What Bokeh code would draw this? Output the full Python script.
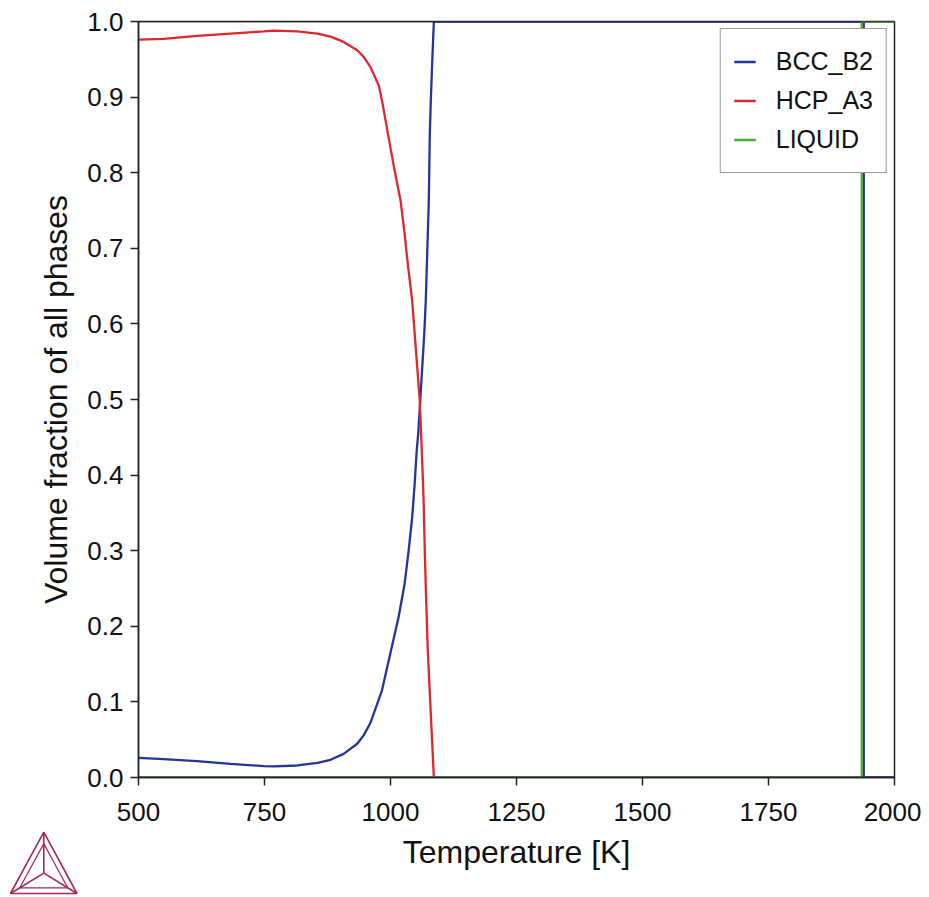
from bokeh.plotting import figure
from bokeh.layouts import column, row
from bokeh.models import (Range1d, FixedTicker, PrintfTickFormatter, Legend, LegendItem, Span)
from bokeh.embed import file_html
from bokeh.resources import INLINE

# ---- data ----
bcc_T = [500, 550, 616, 683, 749, 768, 815, 855, 881, 907, 934, 947, 960, 983, 1001, 1016,
         1028, 1036, 1043, 1048, 1052, 1055, 1059, 1063, 1067, 1070, 1072, 1074, 1076, 1077,
         1078, 1080, 1083, 1086, 1939, 1939, 2000]
bcc_f = [0.026, 0.0243, 0.0216, 0.0181, 0.015, 0.0146, 0.0159, 0.0194, 0.0234, 0.0313,
         0.0446, 0.056, 0.072, 0.115, 0.168, 0.212, 0.256, 0.300, 0.344, 0.389, 0.4325, 0.455,
         0.499, 0.543, 0.587, 0.631, 0.675, 0.719, 0.763, 0.807, 0.851, 0.896, 0.950, 1.0,
         1.0, 0.0, 0.0]

hcp_T = [500, 550, 616, 683, 749, 768, 815, 855, 881, 907, 934, 947, 960, 977, 983, 995,
         1007, 1020, 1028, 1035, 1043, 1048, 1053, 1058, 1061, 1064, 1066, 1068, 1071, 1074,
         1086]
hcp_f = [0.976, 0.977, 0.981, 0.984, 0.987, 0.988, 0.987, 0.984, 0.980, 0.973, 0.962, 0.953,
         0.940, 0.915, 0.896, 0.851, 0.807, 0.763, 0.719, 0.675, 0.631, 0.587, 0.543, 0.499,
         0.450, 0.400, 0.360, 0.300, 0.230, 0.168, 0.0]

liq_T = [500, 1935, 1935, 2000]
liq_f = [0.0, 0.0, 1.0, 1.0]

x_ticks = [500, 750, 1000, 1250, 1500, 1750, 2000]
y_ticks = [0.0, 0.1, 0.2, 0.3, 0.4, 0.5, 0.6, 0.7, 0.8, 0.9, 1.0]

names = ["BCC_B2", "HCP_A3", "LIQUID"]
colors = ["#22359a", "#e0262e", "#4fa83a"]

FONT = "Liberation Sans"
TXT = "#111111"
FRAME = "#222222"

MAIN_W, MAIN_H = 921, 897
p = figure(width=MAIN_W, height=MAIN_H, output_backend="svg", toolbar_location=None,
           x_range=Range1d(500, 2000), y_range=Range1d(0, 1),
           min_border_left=138, min_border_right=27, min_border_top=21, min_border_bottom=120)
p.xgrid.visible = False
p.ygrid.visible = False
p.outline_line_color = FRAME
p.outline_line_width = 1.5
p.background_fill_color = "white"
p.border_fill_color = "white"

r1 = p.line(bcc_T, bcc_f, line_color=colors[0], line_width=2.3)
r2 = p.line(hcp_T, hcp_f, line_color=colors[1], line_width=2.3)
r3 = p.line(liq_T, liq_f, line_color=colors[2], line_width=2.3)

# frame edges drawn over the curves that run along them
for loc in (0, 1):
    p.add_layout(Span(location=loc, dimension="width", line_color=FRAME, line_width=1.5,
                      level="overlay"))

for ax in (p.xaxis[0], p.yaxis[0]):
    ax.axis_line_color = FRAME
    ax.axis_line_width = 1.5
    ax.major_tick_line_color = FRAME
    ax.major_tick_line_width = 1.5
    ax.major_tick_out = 8
    ax.major_tick_in = 0
    ax.minor_tick_line_color = None
    ax.major_label_text_font = FONT
    ax.major_label_text_font_size = "26px"
    ax.major_label_text_color = TXT
    ax.axis_label_text_font = FONT
    ax.axis_label_text_font_size = "32px"
    ax.axis_label_text_font_style = "normal"
    ax.axis_label_text_color = TXT

p.xaxis.ticker = FixedTicker(ticks=x_ticks)
p.yaxis.ticker = FixedTicker(ticks=y_ticks)
p.yaxis.formatter = PrintfTickFormatter(format="%.1f")
p.xaxis.axis_label = "Temperature [K]"
p.yaxis.axis_label = "Volume fraction of all phases"
p.xaxis.major_label_standoff = 17
p.xaxis.axis_label_standoff = 10
p.yaxis.major_label_standoff = 7
p.yaxis.axis_label_standoff = 10

legend = Legend(items=[LegendItem(label=n, renderers=[r]) for n, r in zip(names, [r1, r2, r3])],
                location="top_right", margin=7, padding=13, spacing=0,
                glyph_width=22, glyph_height=39, label_height=39, label_standoff=20,
                label_text_font=FONT, label_text_font_size="25px", label_text_color=TXT,
                border_line_color="#333333", border_line_width=1.5,
                background_fill_alpha=1.0)
p.add_layout(legend, "center")

# ---- decorative logo (small transparent figure laid over the lower-left corner) ----
LOGO_W, LOGO_H = 82, 70
apex = (43.3, 4.7)
bl = (10.0, 66.0)
br = (76.5, 66.0)
ctr = (43.3, 45.6)
logo_col = "#a8284f"

lg = figure(width=LOGO_W, height=LOGO_H, output_backend="svg", toolbar_location=None,
            x_range=Range1d(0, LOGO_W), y_range=Range1d(LOGO_H, 0),
            x_axis_location=None, y_axis_location=None,
            min_border=0, min_border_left=0, min_border_right=0,
            min_border_top=0, min_border_bottom=0)
lg.grid.visible = False
lg.outline_line_color = None
lg.background_fill_alpha = 0
lg.border_fill_alpha = 0
k = 0.72
inner = [(ctr[0] + k * (v[0] - ctr[0]), ctr[1] + k * (v[1] - ctr[1])) for v in (apex, bl, br)]
lg.line([apex[0], bl[0], br[0], apex[0]], [apex[1], bl[1], br[1], apex[1]],
        line_color=logo_col, line_width=1.6)
lg.line([inner[0][0], inner[1][0], inner[2][0], inner[0][0]],
        [inner[0][1], inner[1][1], inner[2][1], inner[0][1]],
        line_color=logo_col, line_width=1.2)
for v in (apex, bl, br):
    lg.line([v[0], ctr[0]], [v[1], ctr[1]], line_color=logo_col, line_width=1.6)

logo_box = row(lg)
logo_box.margin = (-LOGO_H, 0, 0, 0)

layout = column(p, logo_box, spacing=0)
open("out.html", "w").write(file_html(layout, INLINE))
